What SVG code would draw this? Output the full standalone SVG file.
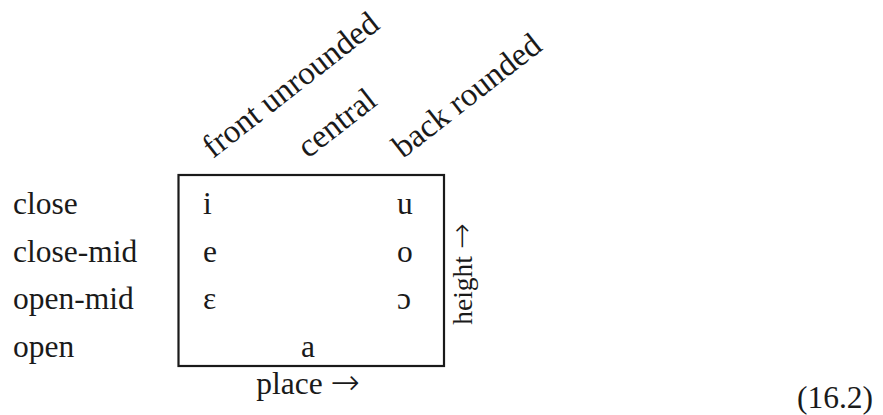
<svg xmlns="http://www.w3.org/2000/svg" width="883" height="415" viewBox="0 0 883 415">
<style>
text{font-family:"Liberation Serif","DejaVu Serif",serif;font-size:31.5px;fill:#1a1a1a}
.hd{font-size:33px}
.ar{font-family:"DejaVu Sans",sans-serif;font-weight:200;font-size:35px}
.vt{font-size:27.5px}
.vt .ar{font-size:31px}
.box{fill:none;stroke:#1a1a1a;stroke-width:2.2}
</style>
<rect width="883" height="415" fill="#fff"/>
<g id="headers">
<text class="hd" transform="translate(213,159) rotate(-38)">front unrounded</text>
<text class="hd" transform="translate(308,159) rotate(-38)">central</text>
<text class="hd" transform="translate(403,159) rotate(-38)">back rounded</text>
</g>
<g id="rows">
<text x="13" y="214">close</text>
<text x="13" y="261.5">close-mid</text>
<text x="13" y="309">open-mid</text>
<text x="13" y="356.5">open</text>
</g>
<g id="chart">
<rect class="box" x="178.5" y="175" width="265.5" height="191"/>
<text x="203" y="214">i</text>
<text x="397" y="214">u</text>
<text x="203" y="261.5">e</text>
<text x="397" y="261.5">o</text>
<text x="203" y="309">ɛ</text>
<text x="397" y="309">ɔ</text>
<text x="308" y="356.5" text-anchor="middle">a</text>
</g>
<g id="axes">
<text x="308" y="394" text-anchor="middle">place <tspan class="ar">→</tspan></text>
<text class="vt" transform="translate(472,274) rotate(-90)" text-anchor="middle">height <tspan class="ar">→</tspan></text>
</g>
<text id="eqnum" x="873" y="408" text-anchor="end">(16.2)</text>
</svg>
